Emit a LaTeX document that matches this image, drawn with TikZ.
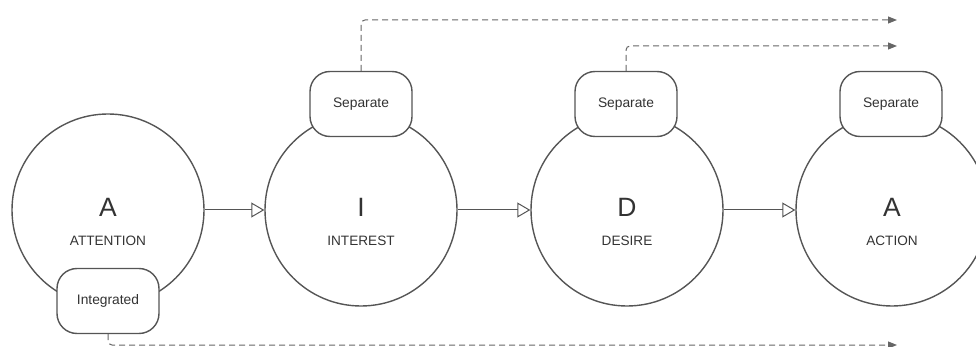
\documentclass[tikz,border=0pt]{standalone}
\usepackage{fontspec}
\setmainfont{Liberation Sans}
\usetikzlibrary{arrows.meta}
\definecolor{linegray}{HTML}{555555}
\definecolor{dashgray}{HTML}{666666}
\definecolor{textgray}{HTML}{333333}
\tikzset{
  stage/.style={circle, draw=linegray, line width=1.4pt, minimum size=192pt, inner sep=0pt},
  tag/.style={draw=linegray, fill=white, line width=1.4pt, rounded corners=20pt, minimum width=102pt, minimum height=65pt, inner sep=0pt, text=textgray, font=\fontsize{13.8}{16}\selectfont},
  bigletter/.style={text=textgray, font=\fontsize{26.5}{30}\selectfont, inner sep=0pt},
  stagename/.style={text=textgray, font=\fontsize{13.6}{16}\selectfont, inner sep=0pt},
  flow/.style={draw=linegray, line width=1pt, -{Triangle[open, length=13pt, width=15pt]}},
  dashflow/.style={draw=dashgray, line width=1pt, dash pattern=on 6pt off 4pt, rounded corners=4pt, -{Triangle[length=9pt, width=7pt]}}
}
\begin{document}
\begin{tikzpicture}[x=1pt, y=-1pt]
\useasboundingbox (0,0) rectangle (976,347);
% circles
\node[stage] (c1) at (108,210) {};
\node[stage] (c2) at (361,210) {};
\node[stage] (c3) at (627,210) {};
\node[stage] (c4) at (892,210) {};
% texts
\node[bigletter] (l1) at (108,207) {A};
\node[stagename] (n1) at (108,241) {ATTENTION};
\node[bigletter] (l2) at (361,207) {I};
\node[stagename] (n2) at (361,241) {INTEREST};
\node[bigletter] (l3) at (627,207) {D};
\node[stagename] (n3) at (627,241) {DESIRE};
\node[bigletter] (l4) at (892,207) {A};
\node[stagename] (n4) at (892,241) {ACTION};
% tags
\node[tag] (t1) at (108,301) {Integrated};
\node[tag] (t2) at (361,104) {Separate};
\node[tag] (t3) at (626,104) {Separate};
\node[tag] (t4) at (891,104) {Separate};
% flow arrows
\draw[flow] (c1.east) -- (c2.west);
\draw[flow] (c2.east) -- (c3.west);
\draw[flow] (c3.east) -- (c4.west);
% dashed outputs
\coordinate (e1) at (897,20);
\coordinate (e2) at (897,46);
\coordinate (e3) at (897,345);
\draw[dashflow] (t2.north) |- (e1);
\draw[dashflow] (t3.north) |- (e2);
\draw[dashflow] (t1.south) |- (e3);
\end{tikzpicture}
\end{document}
